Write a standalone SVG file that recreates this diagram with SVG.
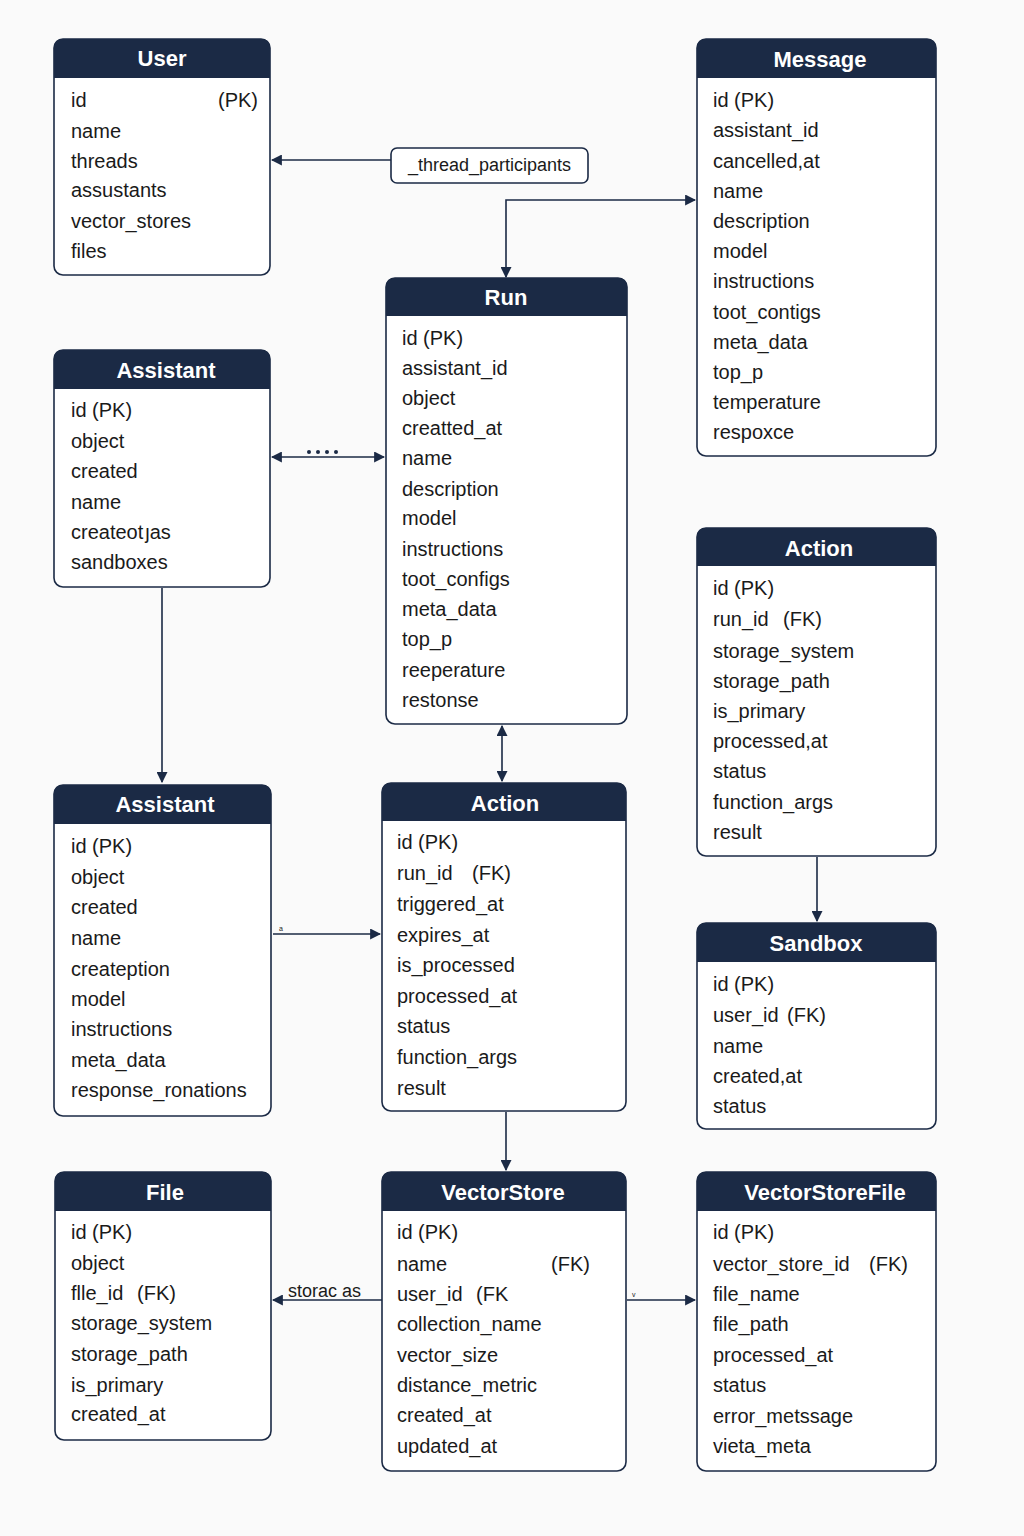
<svg xmlns="http://www.w3.org/2000/svg" width="1024" height="1536" viewBox="0 0 1024 1536">
<defs>
<marker id="arr" viewBox="0 0 10 10" refX="9" refY="5" markerWidth="11" markerHeight="11" markerUnits="userSpaceOnUse" orient="auto-start-reverse">
<path d="M0,0 L10,5 L0,10 Z" fill="#1b2a45"/>
</marker>
<style>
.box{fill:#ffffff;stroke:#1b2a45;stroke-width:1.6}
.hdr{fill:#1b2a45}
.ttl{font-family:"Liberation Sans",Arial,sans-serif;font-weight:bold;font-size:22px;fill:#ffffff;text-anchor:middle}
.f{font-family:"Liberation Sans",Arial,sans-serif;font-size:20px;fill:#1a1a1a}
.ln{fill:none;stroke:#1b2a45;stroke-width:1.6}
.lbl{font-family:"Liberation Sans",Arial,sans-serif;font-size:18px;fill:#1a1a1a}
</style>
</defs>
<rect width="1024" height="1536" fill="#fafafa"/>

<g id="connectors">
<path class="ln" d="M391,160 H272" marker-end="url(#arr)"/>
<path class="ln" d="M695,200 H506 V277" marker-start="url(#arr)" marker-end="url(#arr)"/>
<path class="ln" d="M272,457 H384" marker-start="url(#arr)" marker-end="url(#arr)"/>
<g fill="#1b2a45"><circle cx="309" cy="452" r="2"/><circle cx="318" cy="452" r="2"/><circle cx="327" cy="452" r="2"/><circle cx="336" cy="452" r="2"/></g>
<path class="ln" d="M162,588 V782" marker-end="url(#arr)"/>
<path class="ln" d="M502,726 V781" marker-start="url(#arr)" marker-end="url(#arr)"/>
<path class="ln" d="M273,934 H380" marker-end="url(#arr)"/>
<text x="279" y="931" font-family="Liberation Sans,sans-serif" font-size="7" fill="#1a1a1a">a</text>
<path class="ln" d="M506,1112 V1170" marker-end="url(#arr)"/>
<path class="ln" d="M817,857 V921" marker-end="url(#arr)"/>
<path class="ln" d="M382,1300 H273" marker-end="url(#arr)"/>
<text class="lbl" x="288" y="1297">storac as</text>
<path class="ln" d="M627,1300 H695" marker-end="url(#arr)"/>
<text x="632" y="1297" font-family="Liberation Sans,sans-serif" font-size="7" fill="#1a1a1a">v</text>
</g>

<g id="thread_participants">
<rect class="box" x="391" y="148" width="197" height="35" rx="6"/>
<text class="lbl" x="489.5" y="171" text-anchor="middle">_thread_participants</text>
</g>

<g id="user">
<rect class="box" x="54" y="39" width="216" height="236" rx="9"/>
<path class="hdr" d="M54,78 V48 Q54,39 63,39 H261 Q270,39 270,48 V78 Z"/>
<text class="ttl" x="162" y="66">User</text>
<text class="f" x="71" y="107">id</text><text class="f" x="258" y="107" text-anchor="end">(PK)</text>
<text class="f" x="71" y="138">name</text>
<text class="f" x="71" y="168">threads</text>
<text class="f" x="71" y="197">assustants</text>
<text class="f" x="71" y="228">vector_stores</text>
<text class="f" x="71" y="258">files</text>
</g>

<g id="message">
<rect class="box" x="697" y="39" width="239" height="417" rx="9"/>
<path class="hdr" d="M697,78 V48 Q697,39 706,39 H927 Q936,39 936,48 V78 Z"/>
<text class="ttl" x="820" y="67">Message</text>
<text class="f" x="713" y="107">id (PK)</text>
<text class="f" x="713" y="137">assistant_id</text>
<text class="f" x="713" y="168">cancelled,at</text>
<text class="f" x="713" y="198">name</text>
<text class="f" x="713" y="228">description</text>
<text class="f" x="713" y="258">model</text>
<text class="f" x="713" y="288">instructions</text>
<text class="f" x="713" y="319">toot_contigs</text>
<text class="f" x="713" y="349">meta_data</text>
<text class="f" x="713" y="379">top_p</text>
<text class="f" x="713" y="409">temperature</text>
<text class="f" x="713" y="439">respoxce</text>
</g>

<g id="run">
<rect class="box" x="386" y="278" width="241" height="446" rx="9"/>
<path class="hdr" d="M386,316 V287 Q386,278 395,278 H618 Q627,278 627,287 V316 Z"/>
<text class="ttl" x="506" y="305">Run</text>
<text class="f" x="402" y="345">id (PK)</text>
<text class="f" x="402" y="375">assistant_id</text>
<text class="f" x="402" y="405">object</text>
<text class="f" x="402" y="435">creatted_at</text>
<text class="f" x="402" y="465">name</text>
<text class="f" x="402" y="496">description</text>
<text class="f" x="402" y="525">model</text>
<text class="f" x="402" y="556">instructions</text>
<text class="f" x="402" y="586">toot_configs</text>
<text class="f" x="402" y="616">meta_data</text>
<text class="f" x="402" y="646">top_p</text>
<text class="f" x="402" y="677">reeperature</text>
<text class="f" x="402" y="707">restonse</text>
</g>

<g id="assistant_top">
<rect class="box" x="54" y="350" width="216" height="237" rx="9"/>
<path class="hdr" d="M54,389 V359 Q54,350 63,350 H261 Q270,350 270,359 V389 Z"/>
<text class="ttl" x="166" y="378">Assistant</text>
<text class="f" x="71" y="417">id (PK)</text>
<text class="f" x="71" y="448">object</text>
<text class="f" x="71" y="478">created</text>
<text class="f" x="71" y="509">name</text>
<text class="f" x="71" y="539">createot<tspan dx="2">ȷ</tspan>as</text>
<text class="f" x="71" y="569">sandboxes</text>
</g>

<g id="assistant_bottom">
<rect class="box" x="54" y="785" width="217" height="331" rx="9"/>
<path class="hdr" d="M54,824 V794 Q54,785 63,785 H262 Q271,785 271,794 V824 Z"/>
<text class="ttl" x="165" y="812">Assistant</text>
<text class="f" x="71" y="853">id (PK)</text>
<text class="f" x="71" y="884">object</text>
<text class="f" x="71" y="914">created</text>
<text class="f" x="71" y="945">name</text>
<text class="f" x="71" y="976">createption</text>
<text class="f" x="71" y="1006">model</text>
<text class="f" x="71" y="1036">instructions</text>
<text class="f" x="71" y="1067">meta_data</text>
<text class="f" x="71" y="1097">response_ronations</text>
</g>

<g id="action_mid">
<rect class="box" x="382" y="783" width="244" height="328" rx="9"/>
<path class="hdr" d="M382,821 V792 Q382,783 391,783 H617 Q626,783 626,792 V821 Z"/>
<text class="ttl" x="505" y="811">Action</text>
<text class="f" x="397" y="849">id (PK)</text>
<text class="f" x="397" y="880">run_id<tspan x="472">(FK)</tspan></text>
<text class="f" x="397" y="911">triggered_at</text>
<text class="f" x="397" y="942">expires_at</text>
<text class="f" x="397" y="972">is_processed</text>
<text class="f" x="397" y="1003">processed_at</text>
<text class="f" x="397" y="1033">status</text>
<text class="f" x="397" y="1064">function_args</text>
<text class="f" x="397" y="1095">result</text>
</g>

<g id="action_right">
<rect class="box" x="697" y="528" width="239" height="328" rx="9"/>
<path class="hdr" d="M697,566 V537 Q697,528 706,528 H927 Q936,528 936,537 V566 Z"/>
<text class="ttl" x="819" y="556">Action</text>
<text class="f" x="713" y="595">id (PK)</text>
<text class="f" x="713" y="626">run_id<tspan x="783">(FK)</tspan></text>
<text class="f" x="713" y="658">storage_system</text>
<text class="f" x="713" y="688">storage_path</text>
<text class="f" x="713" y="718">is_primary</text>
<text class="f" x="713" y="748">processed,at</text>
<text class="f" x="713" y="778">status</text>
<text class="f" x="713" y="809">function_args</text>
<text class="f" x="713" y="839">result</text>
</g>

<g id="sandbox">
<rect class="box" x="697" y="923" width="239" height="206" rx="9"/>
<path class="hdr" d="M697,962 V932 Q697,923 706,923 H927 Q936,923 936,932 V962 Z"/>
<text class="ttl" x="816" y="951">Sandbox</text>
<text class="f" x="713" y="991">id (PK)</text>
<text class="f" x="713" y="1022">user_id<tspan x="787">(FK)</tspan></text>
<text class="f" x="713" y="1053">name</text>
<text class="f" x="713" y="1083">created,at</text>
<text class="f" x="713" y="1113">status</text>
</g>

<g id="file">
<rect class="box" x="55" y="1172" width="216" height="268" rx="9"/>
<path class="hdr" d="M55,1211 V1181 Q55,1172 64,1172 H262 Q271,1172 271,1181 V1211 Z"/>
<text class="ttl" x="165" y="1200">File</text>
<text class="f" x="71" y="1239">id (PK)</text>
<text class="f" x="71" y="1270">object</text>
<text class="f" x="71" y="1300">flle_id<tspan x="137">(FK)</tspan></text>
<text class="f" x="71" y="1330">storage_system</text>
<text class="f" x="71" y="1361">storage_path</text>
<text class="f" x="71" y="1392">is_primary</text>
<text class="f" x="71" y="1421">created_at</text>
</g>

<g id="vectorstore">
<rect class="box" x="382" y="1172" width="244" height="299" rx="9"/>
<path class="hdr" d="M382,1211 V1181 Q382,1172 391,1172 H617 Q626,1172 626,1181 V1211 Z"/>
<text class="ttl" x="503" y="1200">VectorStore</text>
<text class="f" x="397" y="1239">id (PK)</text>
<text class="f" x="397" y="1271">name<tspan x="551">(FK)</tspan></text>
<text class="f" x="397" y="1301">user_id<tspan x="476">(FK</tspan></text>
<text class="f" x="397" y="1331">collection_name</text>
<text class="f" x="397" y="1362">vector_size</text>
<text class="f" x="397" y="1392">distance_metric</text>
<text class="f" x="397" y="1422">created_at</text>
<text class="f" x="397" y="1453">updated_at</text>
</g>

<g id="vectorstorefile">
<rect class="box" x="697" y="1172" width="239" height="299" rx="9"/>
<path class="hdr" d="M697,1211 V1181 Q697,1172 706,1172 H927 Q936,1172 936,1181 V1211 Z"/>
<text class="ttl" x="825" y="1200">VectorStoreFile</text>
<text class="f" x="713" y="1239">id (PK)</text>
<text class="f" x="713" y="1271">vector_store_id<tspan x="869">(FK)</tspan></text>
<text class="f" x="713" y="1301">file_name</text>
<text class="f" x="713" y="1331">file_path</text>
<text class="f" x="713" y="1362">processed_at</text>
<text class="f" x="713" y="1392">status</text>
<text class="f" x="713" y="1423">error_metssage</text>
<text class="f" x="713" y="1453">vieta_meta</text>
</g>
</svg>
